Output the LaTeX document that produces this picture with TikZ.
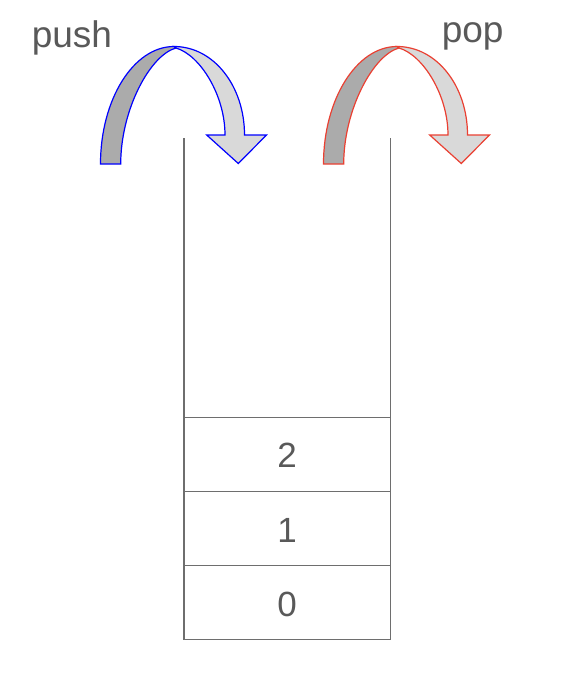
\documentclass[tikz,border=0pt]{standalone}
\usepackage{fontspec}
\setmainfont{Liberation Sans}
\definecolor{txtgray}{RGB}{89,89,89}
\definecolor{linegray}{RGB}{110,110,110}
\definecolor{darkband}{RGB}{171,171,171}
\definecolor{lightband}{RGB}{217,217,217}
\definecolor{popred}{RGB}{234,64,50}
\begin{document}
\begin{tikzpicture}[x=1pt,y=-1pt,
  lbl/.style={text=txtgray,font=\fontsize{37}{44}\selectfont,inner sep=0pt},
  num/.style={text=txtgray,font=\fontsize{35}{42}\selectfont,inner sep=0pt},
  stackline/.style={draw=linegray,line width=1.4pt},
  bandline/.style={line width=1.2pt,line join=miter},
  uarrow/.pic={
    \path[fill=darkband,draw=#1,bandline]
      (100.5,164) .. controls (100.5,99.4) and (133.6,46.5) .. (174,46.5)
      -- (176,48) .. controls (150,55) and (120.7,110) .. (120.7,164) -- cycle;
    \path[fill=lightband,draw=#1,bandline]
      (174,46.5) .. controls (213.7,46.5) and (244.5,86) .. (244.5,135)
      -- (266.5,135) -- (238.3,163.5) -- (206.7,135) -- (225,135)
      .. controls (225,95) and (200,55) .. (176,48) -- cycle;
  }]
\useasboundingbox (0,0) rectangle (574,674);
\fill[white] (0,0) rectangle (574,674);
% arrows
\pic at (0,0) {uarrow=blue};
\pic at (223,0) {uarrow=popred};
% labels
\node[lbl,anchor=base west] (push) at (31.6,48) {push};
\node[lbl,anchor=base west] (pop) at (441.6,42.3) {pop};
% stack
\coordinate (tl) at (184,138);
\coordinate (tr) at (390.5,138);
\coordinate (bl) at (184,639.5);
\coordinate (br) at (390.5,639.5);
\draw[stackline] (tl) -- (bl) -- (br) -- (tr);
\draw[stackline] (184,417.3) -- (390.5,417.3);
\draw[stackline] (184,491.3) -- (390.5,491.3);
\draw[stackline] (184,565.3) -- (390.5,565.3);
\node[num] (c2) at (287.2,455.5) {2};
\node[num] (c1) at (287.2,530) {1};
\node[num] (c0) at (287.2,604) {0};
\end{tikzpicture}
\end{document}
